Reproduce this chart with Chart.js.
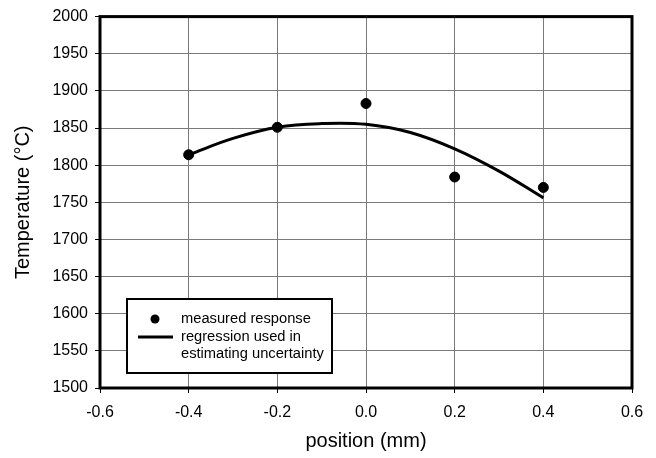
<!DOCTYPE html>
<html>
<head>
<meta charset="utf-8">
<script src="https://cdn.jsdelivr.net/npm/chart.js@4/dist/chart.umd.min.js"></script>
<style>
  html, body { margin: 0; padding: 0; background: #fff; }
  #wrap { width: 656px; height: 458px; }
</style>
</head>
<body>
<div id="wrap"><canvas id="temp-chart"></canvas></div>
<script>
// measured response
const positions = [-0.4, -0.2, 0.0, 0.2, 0.4];
const temperatures = [1814, 1851, 1883, 1784, 1770];

// regression curve
const fitPositions = [-0.4, -0.3, -0.2, -0.1, 0.0, 0.1, 0.2, 0.3, 0.4];
const fitTemperatures = [1814, 1836, 1851, 1856, 1855, 1844, 1822, 1792, 1756];

const legendLabels = ['measured response', 'regression used in', 'estimating uncertainty'];

const fontFamily = '"Liberation Sans", Arial, sans-serif';

const measured = positions.map((x, i) => ({ x: x, y: temperatures[i] }));
const fitted = fitPositions.map((x, i) => ({ x: x, y: fitTemperatures[i] }));

// thick frame all round the plot area + the boxed legend
const framePlugin = {
    id: 'frame',
    afterDraw(chart) {
        const ctx = chart.ctx;
        const a = chart.chartArea;
        ctx.save();
        ctx.strokeStyle = '#000';
        ctx.lineWidth = 3;
        ctx.strokeRect(a.left, a.top, a.right - a.left, a.bottom - a.top);

        const bx = a.left + 27, by = a.bottom - 89, bw = 205, bh = 74;
        ctx.fillStyle = '#fff';
        ctx.fillRect(bx, by, bw, bh);
        ctx.lineWidth = 2;
        ctx.strokeRect(bx, by, bw, bh);

        ctx.fillStyle = '#000';
        ctx.beginPath();
        ctx.arc(bx + 28, by + 20, 4.5, 0, Math.PI * 2);
        ctx.fill();

        ctx.lineWidth = 3;
        ctx.beginPath();
        ctx.moveTo(bx + 11, by + 38);
        ctx.lineTo(bx + 46, by + 38);
        ctx.stroke();

        ctx.font = '14.7px ' + fontFamily;
        ctx.textBaseline = 'middle';
        ctx.textAlign = 'left';
        const rows = [20, 38, 55];
        legendLabels.forEach((t, i) => ctx.fillText(t, bx + 54, by + rows[i]));
        ctx.restore();
    }
};

new Chart('temp-chart', {
    type: 'scatter',
    data: {
        datasets: [{
            label: 'measured response',
            data: measured,
            backgroundColor: '#000',
            borderColor: '#000',
            pointRadius: 5,
            pointHoverRadius: 5,
            showLine: false
        }, {
            label: 'regression used in estimating uncertainty',
            data: fitted,
            borderColor: '#000',
            backgroundColor: '#000',
            borderWidth: 3,
            pointRadius: 0,
            showLine: true,
            tension: 0.4
        }]
    },
    options: {
        responsive: true,
        maintainAspectRatio: false,
        animation: false,
        layout: { padding: { top: 15, right: 24, left: 0, bottom: 0 } },
        plugins: {
            legend: { display: false },
            tooltip: { enabled: false }
        },
        scales: {
            x: {
                type: 'linear',
                min: -0.6,
                max: 0.6,
                afterFit: (s) => { s.height = 70; },
                ticks: {
                    stepSize: 0.2,
                    color: '#000',
                    padding: 10,
                    font: { family: fontFamily, size: 16 },
                    callback: (v) => Number(v).toFixed(1)
                },
                grid: { color: '#7a7a7a', lineWidth: 1, tickColor: '#000', tickLength: 5 },
                border: { display: false },
                title: {
                    display: true,
                    text: 'position (mm)',
                    color: '#000',
                    font: { family: fontFamily, size: 20 },
                    padding: { top: 0, bottom: 5 }
                }
            },
            y: {
                min: 1500,
                max: 2000,
                afterFit: (s) => { s.width = 100; },
                ticks: {
                    stepSize: 50,
                    color: '#000',
                    padding: 7,
                    font: { family: fontFamily, size: 16 },
                    callback: (v) => String(v)
                },
                grid: { color: '#7a7a7a', lineWidth: 1, tickColor: '#000', tickLength: 5 },
                border: { display: false },
                title: {
                    display: true,
                    text: 'Temperature (°C)',
                    color: '#000',
                    font: { family: fontFamily, size: 20 },
                    padding: { top: 11, bottom: 0 }
                }
            }
        }
    },
    plugins: [framePlugin]
});
</script>
</body>
</html>
